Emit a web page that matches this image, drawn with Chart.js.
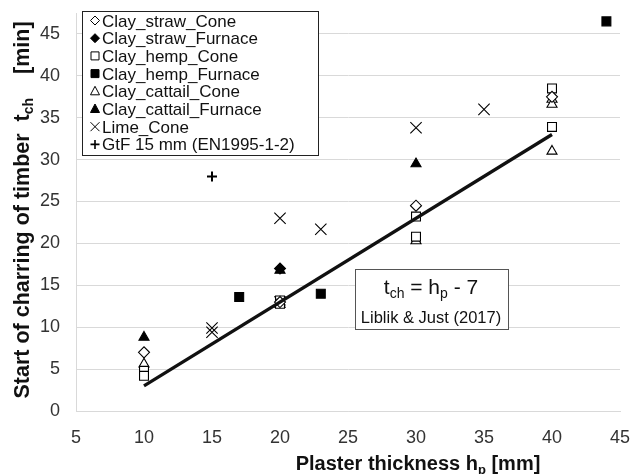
<!DOCTYPE html>
<html>
<head>
<meta charset="utf-8">
<script src="https://cdn.jsdelivr.net/npm/chart.js@4/dist/chart.umd.min.js"></script>
<style>
html,body{margin:0;padding:0;background:#fff;}
#wrap{position:relative;width:635px;height:474px;}
</style>
</head>
<body>
<div id="wrap"><canvas id="c" width="635" height="474"></canvas></div>
<script>
// ---- data ----
const strawConeX = [10, 20, 30, 40];
const strawConeY = [7, 13, 24.5, 37.5];
const strawFurnX = [20];
const strawFurnY = [17];
const hempConeX = [10, 10, 20, 20, 30, 30, 40, 40];
const hempConeY = [4.8, 4.2, 13.2, 12.8, 23.2, 20.8, 38.5, 33.9];
const hempFurnX = [17, 23, 44];
const hempFurnY = [13.6, 14, 46.5];
const cattailConeX = [10, 20, 30, 40, 40, 40];
const cattailConeY = [5.6, 13, 20.3, 37.2, 36.6, 31];
const cattailFurnX = [10, 20, 30];
const cattailFurnY = [8.8, 16.8, 29.5];
const limeConeX = [15, 15, 20, 20, 23, 30, 35];
const limeConeY = [9.9, 9.4, 13, 23, 21.7, 33.8, 36];
const gtfX = [15];
const gtfY = [28];
const trendX = [10, 40];
const trendY = [3, 33];
const xTicks = [5, 10, 15, 20, 25, 30, 35, 40, 45];
const yTicks = [0, 5, 10, 15, 20, 25, 30, 35, 40, 45];
const seriesNames = ['Clay_straw_Cone','Clay_straw_Furnace','Clay_hemp_Cone','Clay_hemp_Furnace',
  'Clay_cattail_Cone','Clay_cattail_Furnace','Lime_Cone','GtF 15 mm (EN1995-1-2)'];

const FONT = '"Liberation Sans", Arial, sans-serif';
const pts = (xs, ys) => xs.map((x, i) => ({x: x, y: ys[i]}));

function series(name, xs, ys, style, filled, r, bw) {
  return {
    label: name, type: 'scatter', data: pts(xs, ys), showLine: false,
    pointStyle: style, pointRadius: r, pointHoverRadius: r,
    backgroundColor: filled ? '#000' : '#fff', borderColor: '#000',
    pointBorderWidth: bw, borderWidth: bw, order: 2
  };
}

const datasets = [
  {label: 'trend', type: 'line', data: pts(trendX, trendY), borderColor: '#111', borderWidth: 3.3,
   pointRadius: 0, fill: false, order: 0},
  series(seriesNames[0], strawConeX, strawConeY, 'rectRot', false, 5.5, 1.1),
  series(seriesNames[1], strawFurnX, strawFurnY, 'rectRot', true, 5.5, 1.1),
  series(seriesNames[2], hempConeX, hempConeY, 'rect', false, 6.3, 1.1),
  series(seriesNames[3], hempFurnX, hempFurnY, 'rect', true, 6.3, 1.1),
  series(seriesNames[4], cattailConeX, cattailConeY, 'triangle', false, 5.8, 1.1),
  series(seriesNames[5], cattailFurnX, cattailFurnY, 'triangle', true, 5.8, 1.1),
  series(seriesNames[6], limeConeX, limeConeY, 'crossRot', false, 8, 1.1),
  series(seriesNames[7], gtfX, gtfY, 'cross', false, 5, 2)
];

const legendStyles = [['diamond',false],['diamond',true],['square',false],['square',true],
  ['triangle',false],['triangle',true],['x',false],['plus',false]];

function marker(ctx, kind, filled, x, y) {
  ctx.save();
  ctx.strokeStyle = '#000'; ctx.fillStyle = filled ? '#000' : '#fff'; ctx.lineWidth = 1;
  ctx.beginPath();
  if (kind === 'diamond') {
    ctx.moveTo(x, y - 4.5); ctx.lineTo(x + 4.5, y); ctx.lineTo(x, y + 4.5); ctx.lineTo(x - 4.5, y); ctx.closePath();
    ctx.fill(); ctx.stroke();
  } else if (kind === 'square') {
    ctx.rect(x - 4, y - 4, 8, 8); ctx.fill(); ctx.stroke();
  } else if (kind === 'triangle') {
    ctx.moveTo(x, y - 5); ctx.lineTo(x + 4.5, y + 3.5); ctx.lineTo(x - 4.5, y + 3.5); ctx.closePath();
    ctx.fill(); ctx.stroke();
  } else if (kind === 'x') {
    ctx.moveTo(x - 4.5, y - 4.5); ctx.lineTo(x + 4.5, y + 4.5);
    ctx.moveTo(x + 4.5, y - 4.5); ctx.lineTo(x - 4.5, y + 4.5); ctx.stroke();
  } else if (kind === 'plus') {
    ctx.lineWidth = 1.6;
    ctx.moveTo(x - 4.5, y); ctx.lineTo(x + 4.5, y);
    ctx.moveTo(x, y - 4.5); ctx.lineTo(x, y + 4.5); ctx.stroke();
  }
  ctx.restore();
}

function drawParts(ctx, parts, x, y, align) {
  let total = 0;
  parts.forEach(p => { ctx.font = (p[2] ? 'bold ' : '') + p[1] + 'px ' + FONT; total += ctx.measureText(p[0]).width; });
  let cx = align === 'center' ? x - total / 2 : x;
  parts.forEach(p => {
    ctx.font = (p[2] ? 'bold ' : '') + p[1] + 'px ' + FONT;
    ctx.fillText(p[0], cx, y + p[3]);
    cx += ctx.measureText(p[0]).width;
  });
}

const overlay = {
  id: 'overlay',
  afterDraw(chart) {
    const ctx = chart.ctx;
    ctx.save();
    ctx.textBaseline = 'alphabetic';
    ctx.textAlign = 'left';
    // legend box
    const lx = 82, ly = 11, lw = 236, lh = 144;
    ctx.fillStyle = '#fff'; ctx.fillRect(lx, ly, lw, lh);
    ctx.strokeStyle = '#222'; ctx.lineWidth = 1;
    ctx.strokeRect(lx + 0.5, ly + 0.5, lw, lh);
    seriesNames.forEach((n, i) => {
      const cy = 20.5 + i * 17.7;
      marker(ctx, legendStyles[i][0], legendStyles[i][1], 95, cy);
      ctx.fillStyle = '#111';
      ctx.font = '17px ' + FONT;
      ctx.fillText(n, 102, cy + 6);
    });
    // annotation box
    ctx.fillStyle = '#fff'; ctx.fillRect(355, 269, 153, 60);
    ctx.strokeStyle = '#555'; ctx.strokeRect(355.5, 269.5, 153, 60);
    ctx.fillStyle = '#111';
    drawParts(ctx, [['t', 21, false, 0], ['ch', 14, false, 4], [' = h', 21, false, 0], ['p', 14, false, 4], [' - 7', 21, false, 0]], 431, 294, 'center');
    drawParts(ctx, [['Liblik & Just (2017)', 16.5, false, 0]], 431, 323, 'center');
    // x title
    drawParts(ctx, [['Plaster thickness h', 20, true, 0], ['p', 13, true, 4], [' [mm]', 20, true, 0]], 418, 470, 'center');
    // y title
    ctx.translate(29, 210);
    ctx.rotate(-Math.PI / 2);
    drawParts(ctx, [['Start of charring of timber  t', 21.5, true, 0], ['ch', 14, true, 4], ['    [min]', 21.5, true, 0]], 0, 0, 'center');
    ctx.restore();
  }
};

new Chart(document.getElementById('c'), {
  type: 'scatter',
  data: {datasets: datasets},
  options: {
    responsive: false, animation: false, devicePixelRatio: 1,
    layout: {padding: {top: 13, right: 15, left: 0, bottom: 0}},
    plugins: {legend: {display: false}, tooltip: {enabled: false}},
    scales: {
      x: {
        type: 'linear', min: 5, max: 45,
        afterBuildTicks: s => { s.ticks = xTicks.map(v => ({value: v})); },
        afterFit: s => { s.height = 63; s.paddingLeft = 0; s.paddingRight = 0; },
        grid: {display: true, color: 'rgba(0,0,0,0)', drawTicks: false},
        border: {display: true, color: '#d9d9d9', width: 1},
        ticks: {color: '#333', font: {family: FONT, size: 18}, padding: 16, maxRotation: 0}
      },
      y: {
        type: 'linear', min: 0, max: 47.5,
        afterBuildTicks: s => { s.ticks = yTicks.map(v => ({value: v})); },
        afterFit: s => { s.width = 76; s.paddingTop = 0; s.paddingBottom = 0; },
        grid: {color: '#d9d9d9', lineWidth: 1, drawTicks: false},
        border: {display: true, color: '#d9d9d9', width: 1},
        ticks: {color: '#333', font: {family: FONT, size: 18}, padding: 16}
      }
    }
  },
  plugins: [overlay]
});
</script>
</body>
</html>
